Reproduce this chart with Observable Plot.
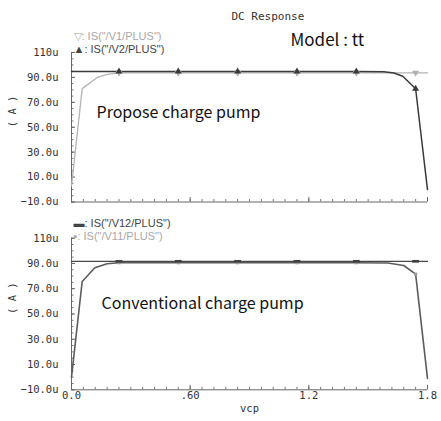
<!DOCTYPE html>
<html><head><meta charset="utf-8">
<script src="https://cdn.jsdelivr.net/npm/d3@7"></script>
<script src="https://cdn.jsdelivr.net/npm/@observablehq/plot@0.6"></script>
<style>
body{margin:0;background:#fff;}
svg{display:block;}
</style></head><body><div id="chart"></div>
<script>
// ---- data ----
const yTicks = [-10, 10, 30, 50, 70, 90, 110];
const yTickLabels = ["−10.0u", "10.0u", "30.0u", "50.0u", "70.0u", "90.0u", "110u"];
const xTicks = [0, 0.6, 1.2, 1.8];
const xTickLabels = ["0.0", ".60", "1.2", "1.8"];
const markerX = [0.24, 0.54, 0.84, 1.14, 1.44, 1.74];

// top panel (Propose charge pump)
const v1X = [0, 0.054, 0.13, 0.18, 0.24, 0.54, 0.84, 1.14, 1.44, 1.74, 1.8];
const v1Y = [3, 81, 90, 92.4, 93.7, 93.7, 93.7, 93.7, 93.7, 93.7, 93.7];
const v1Mark = [93.7, 93.7, 93.7, 93.7, 93.7, 93.7];
const v2X = [0, 0.24, 0.54, 0.84, 1.14, 1.44, 1.58, 1.63, 1.675, 1.74, 1.8];
const v2Y = [94.7, 94.7, 94.7, 94.7, 94.7, 94.7, 94.6, 93.6, 91, 80.9, 0];
const v2Mark = [94.7, 94.7, 94.7, 94.7, 94.7, 80.9];

// bottom panel (Conventional charge pump)
const v12X = [0, 0.24, 0.54, 0.84, 1.14, 1.44, 1.74, 1.8];
const v12Y = [91.7, 91.7, 91.7, 91.7, 91.7, 91.7, 91.7, 91.7];
const v12Mark = [91.7, 91.7, 91.7, 91.7, 91.7, 91.7];
const v11X = [0, 0.054, 0.118, 0.18, 0.24, 0.54, 0.84, 1.14, 1.44, 1.6, 1.68, 1.74, 1.8];
const v11Y = [0, 75.7, 86.6, 89.8, 90.6, 90.6, 90.6, 90.6, 90.6, 90.4, 88.4, 81.5, -1];
const v11Mark = [90.6, 90.6, 90.6, 90.6, 90.6, 81.5];

const titleText = "DC Response";
const modelText = "Model : tt";
const yLabel = "( A )";
const xLabel = "vcp";

// ---- drawing ----
const W = 441, ML = 71, MR = 14;
const MONO = "DejaVu Sans Mono";
const KR = "'Noto Sans CJK KR', 'Noto Sans', sans-serif";
const LEG = "'Liberation Sans', Arial, sans-serif";
const xMinor = d3.range(0, 1.8001, 0.06);
const yMinor = d3.range(-10, 110.001, 5);
const wideRect = {draw(ctx, size) { const s = Math.sqrt(size); ctx.rect(-s * 0.8, -s * 0.32, s * 1.6, s * 0.64); }};

function zip(xs, ys) { return xs.map((x, i) => ({x, y: ys[i]})); }

function panel({height, mt, mb, lines, markers, legend, annotation, showX, extra}) {
  const innerH = height - mt - mb, innerW = W - ML - MR;
  const marks = [
    Plot.tickX(xMinor, {x: d => d, insetTop: innerH - 2.5, stroke: "#777", strokeWidth: 1}),
    Plot.tickX(xTicks, {x: d => d, insetTop: innerH - 4.5, stroke: "#666", strokeWidth: 1}),
    Plot.tickY(yMinor, {y: d => d, insetRight: innerW - 2.5, stroke: "#777", strokeWidth: 1}),
    Plot.tickY(yTicks, {y: d => d, insetRight: innerW - 4, stroke: "#666", strokeWidth: 1}),
    Plot.ruleX([0], {stroke: "#666", strokeWidth: 1}),
    Plot.ruleY([-10], {stroke: "#666", strokeWidth: 1}),
    Plot.text(yTicks, {y: d => d, frameAnchor: "left", dx: -13, textAnchor: "end",
      text: (d, i) => yTickLabels[i], fontFamily: MONO, fontSize: 10.5, fill: "#333"}),
    Plot.text([yLabel], {frameAnchor: "left", dx: -59, rotate: -90, text: d => d,
      fontFamily: MONO, fontSize: 10.5, fill: "#333"}),
  ];
  for (const l of lines) {
    marks.push(Plot.line(l.data, {x: "x", y: "y", stroke: l.color, strokeWidth: l.width}));
  }
  for (const m of markers) {
    marks.push(Plot.dot(m.data, {x: "x", y: "y", symbol: m.symbol, r: m.r, fill: m.color,
      stroke: "none", rotate: m.rotate || 0}));
  }
  legend.forEach((lg) => {
    marks.push(Plot.text([lg.text], {frameAnchor: "top-left", dx: 2, dy: lg.dy,
      textAnchor: "start", text: d => d, fill: lg.color, fontFamily: LEG, fontSize: 11}));
  });
  marks.push(Plot.text([annotation.text], {frameAnchor: "top-left", dx: annotation.dx, dy: annotation.dy,
    textAnchor: "start", text: d => d, fill: "#111", fontFamily: KR, fontSize: 16}));
  if (showX) {
    marks.push(Plot.text(xTicks, {x: d => d, frameAnchor: "bottom", dy: 9,
      text: (d, i) => xTickLabels[i], fontFamily: MONO, fontSize: 10.5, fill: "#333"}));
    marks.push(Plot.text([xLabel], {frameAnchor: "bottom", dy: 22, text: d => d,
      fontFamily: MONO, fontSize: 10.5, fill: "#333"}));
  }
  if (extra) marks.push(...extra);
  return Plot.plot({
    width: W, height, marginLeft: ML, marginRight: MR, marginTop: mt, marginBottom: mb,
    x: {domain: [0, 1.8], axis: null},
    y: {domain: [-10, 110], axis: null},
    style: {background: "#fff", overflow: "visible"},
    marks
  });
}

const topPanel = panel({
  height: 205, mt: 52, mb: 3.5,
  lines: [
    {data: zip(v1X, v1Y), color: "#b4b4b4", width: 1.3},
    {data: zip(v2X, v2Y), color: "#3a3a3a", width: 1.5}
  ],
  markers: [
    {data: zip(markerX, v1Mark), symbol: "triangle", r: 2.6, rotate: 180, color: "#b0b0b0"},
    {data: zip(markerX, v2Mark), symbol: "triangle", r: 2.6, color: "#3a3a3a"}
  ],
  legend: [
    {text: "▽: IS(\"/V1/PLUS\")", color: "#a8a8a8", dy: -20.5},
    {text: "▲: IS(\"/V2/PLUS\")", color: "#444", dy: -7.5}
  ],
  annotation: {text: "Propose charge pump", dx: 25, dy: 54},
  showX: false,
  extra: [
    Plot.text([titleText], {frameAnchor: "top-left", dx: 160, dy: -40, text: d => d,
      fontFamily: MONO, fontSize: 11, fill: "#333"}),
    Plot.text([modelText], {frameAnchor: "top-left", dx: 219, dy: -19, textAnchor: "start",
      text: d => d, fontFamily: KR, fontSize: 17, fill: "#111"})
  ]
});

const bottomPanel = panel({
  height: 216, mt: 32.7, mb: 31.7,
  lines: [
    {data: zip(v11X, v11Y), color: "#5c5c5c", width: 1.6},
    {data: zip(v12X, v12Y), color: "#484848", width: 1.3}
  ],
  markers: [
    {data: zip(markerX, v11Mark), symbol: "square", r: 1.8, color: "#9a9a9a"},
    {data: zip(markerX, v12Mark), symbol: wideRect, r: 2.4, color: "#404040"}
  ],
  legend: [
    {text: "▬: IS(\"/V12/PLUS\")", color: "#444", dy: -19.5},
    {text: "▪: IS(\"/V11/PLUS\")", color: "#a8a8a8", dy: -6.5}
  ],
  annotation: {text: "Conventional charge pump", dx: 30, dy: 59},
  showX: true
});

const root = document.getElementById("chart");
root.appendChild(topPanel);
root.appendChild(bottomPanel);
</script></body></html>
